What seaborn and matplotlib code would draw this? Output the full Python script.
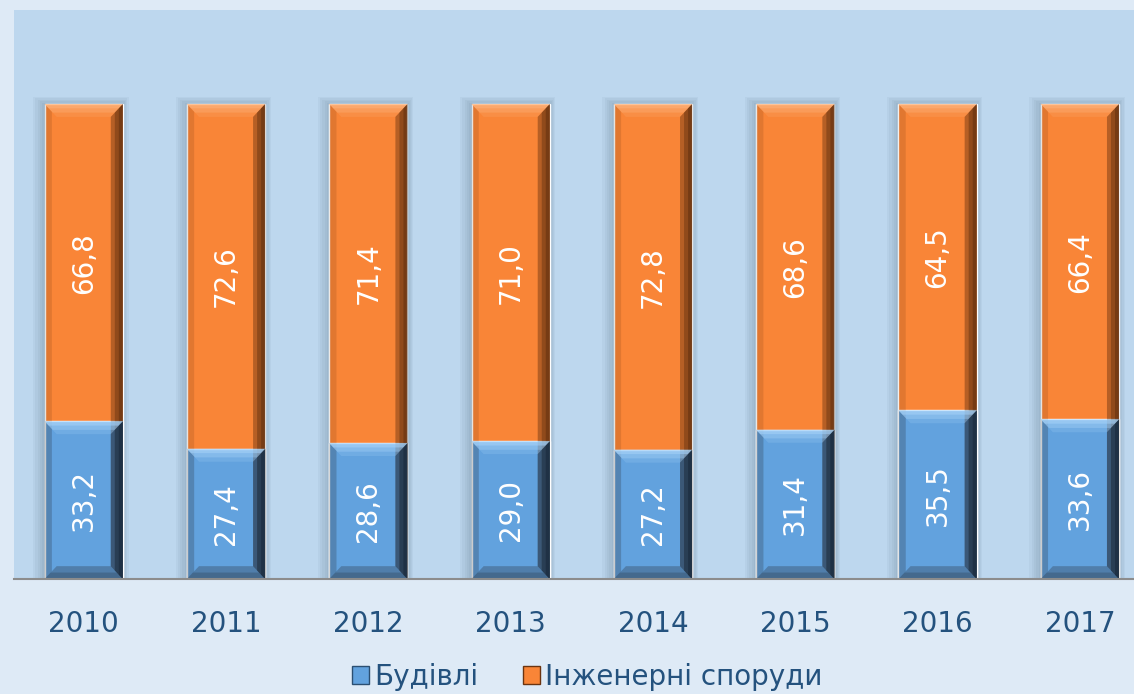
import numpy as np
import matplotlib.pyplot as plt
import pandas as pd
import seaborn as sns
from matplotlib.patches import Polygon, Rectangle, Patch

years = ["2010", "2011", "2012", "2013", "2014", "2015", "2016", "2017"]
buildings = [33.2, 27.4, 28.6, 29.0, 27.2, 31.4, 35.5, 33.6]
engineering = [66.8, 72.6, 71.4, 71.0, 72.8, 68.6, 64.5, 66.4]
series_names = ["Будівлі", "Інженерні споруди"]

blue = "#62A2DE"
orange = "#F98537"
text_col = "#24527E"

df = pd.DataFrame({"year": years, "b": buildings, "e": engineering})
df["total"] = df["b"] + df["e"]

sns.set_style("white")
plt.rcParams['font.family'] = ['DejaVu Sans']

fig = plt.figure(figsize=(11.34, 6.94), dpi=100)
fig.patch.set_facecolor("#DEEAF6")
ax = fig.add_axes([14 / 1134, 115 / 694, 1 - 14 / 1134, 569 / 694])
ax.set_facecolor("#BDD7EE")

sns.barplot(data=df, x="year", y="total", color=orange, width=0.55,
            saturation=1, ax=ax, zorder=3)
sns.barplot(data=df, x="year", y="b", color=blue, width=0.55,
            saturation=1, ax=ax, zorder=3)

ax.set_xlim(-0.49, 7.38)
ax.set_ylim(0, 119.8)

# soft shadows and bevels computed from the drawn bars
n = len(years)
bars = ax.patches[:]
tops = bars[:n]
bottoms = bars[n:]
bx, by = 0.085, 2.7


def poly(pts, color, alpha, z=4):
    ax.add_patch(Polygon(pts, closed=True, facecolor=color, edgecolor="none",
                         alpha=alpha, zorder=z))


def bevel(p, light, dark):
    x0, y0 = p.get_x(), p.get_y()
    w, h = p.get_width(), p.get_height()
    x1, y1 = x0 + w, y0 + h
    # top highlight, fading downwards
    for k, a in enumerate([0.9, 0.6, 0.35]):
        f = (k + 1) / 3
        poly([(x0, y1), (x1, y1), (x1 - bx * f, y1 - by * f), (x0 + bx * f, y1 - by * f)], light, a / 1.6)
    # right side, darkest at the edge
    for k, a in enumerate([0.35, 0.3, 0.3]):
        f = 1 - k / 3
        poly([(x1, y1), (x1, y0), (x1 - bx * f, y0 + by * f), (x1 - bx * f, y1 - by * f)], dark, a)
    # bottom
    for k, a in enumerate([0.15, 0.12]):
        f = 1 - k / 2
        poly([(x0, y0), (x1, y0), (x1 - bx * f, y0 + by * f), (x0 + bx * f, y0 + by * f)], dark, a)
    # left
    poly([(x0, y1), (x0, y0), (x0 + bx * 0.6, y0 + by * 0.6), (x0 + bx * 0.6, y1 - by * 0.6)], dark, 0.12)


for p in tops:
    x0, w, h = p.get_x(), p.get_width(), p.get_height()
    for k in range(1, 6):
        ax.add_patch(Rectangle((x0 - 0.016 * k, 0), w + 0.024 * k, h + 0.3 * k,
                               facecolor="#2A3E52", alpha=0.045, edgecolor="none", zorder=2))
    bevel(p, "#FDB27A", "#3A1A05")
for p in bottoms:
    bevel(p, "#A6D2F8", "#0E2A45")

for i in range(n):
    b, e = buildings[i], engineering[i]
    ax.text(i, b / 2, f"{b:.1f}".replace(".", ","), rotation=90, ha="center",
            va="center", color="white", fontsize=20, zorder=6)
    ax.text(i, b + e / 2, f"{e:.1f}".replace(".", ","), rotation=90, ha="center",
            va="center", color="white", fontsize=20, zorder=6)

ax.set_xlabel("")
ax.set_ylabel("")
ax.set_yticks([])
ax.tick_params(axis="x", length=0, pad=22, labelsize=20, labelcolor=text_col)
for s in ["top", "right", "left"]:
    ax.spines[s].set_visible(False)
ax.spines["bottom"].set_color("#8C8C8C")
ax.spines["bottom"].set_linewidth(1.5)
ax.spines["bottom"].set_zorder(7)

handles = [Patch(facecolor=blue, edgecolor="#2B4F72", label=series_names[0]),
           Patch(facecolor=orange, edgecolor="#6B3410", label=series_names[1])]
leg = fig.legend(handles=handles, loc="center", bbox_to_anchor=(0.518, 0.025), ncol=2,
                 frameon=False, fontsize=20, handlelength=0.6, handleheight=0.6,
                 handletextpad=0.2, columnspacing=1.6)
for t in leg.get_texts():
    t.set_color(text_col)

fig.savefig("out.png", dpi=100, facecolor=fig.get_facecolor())
